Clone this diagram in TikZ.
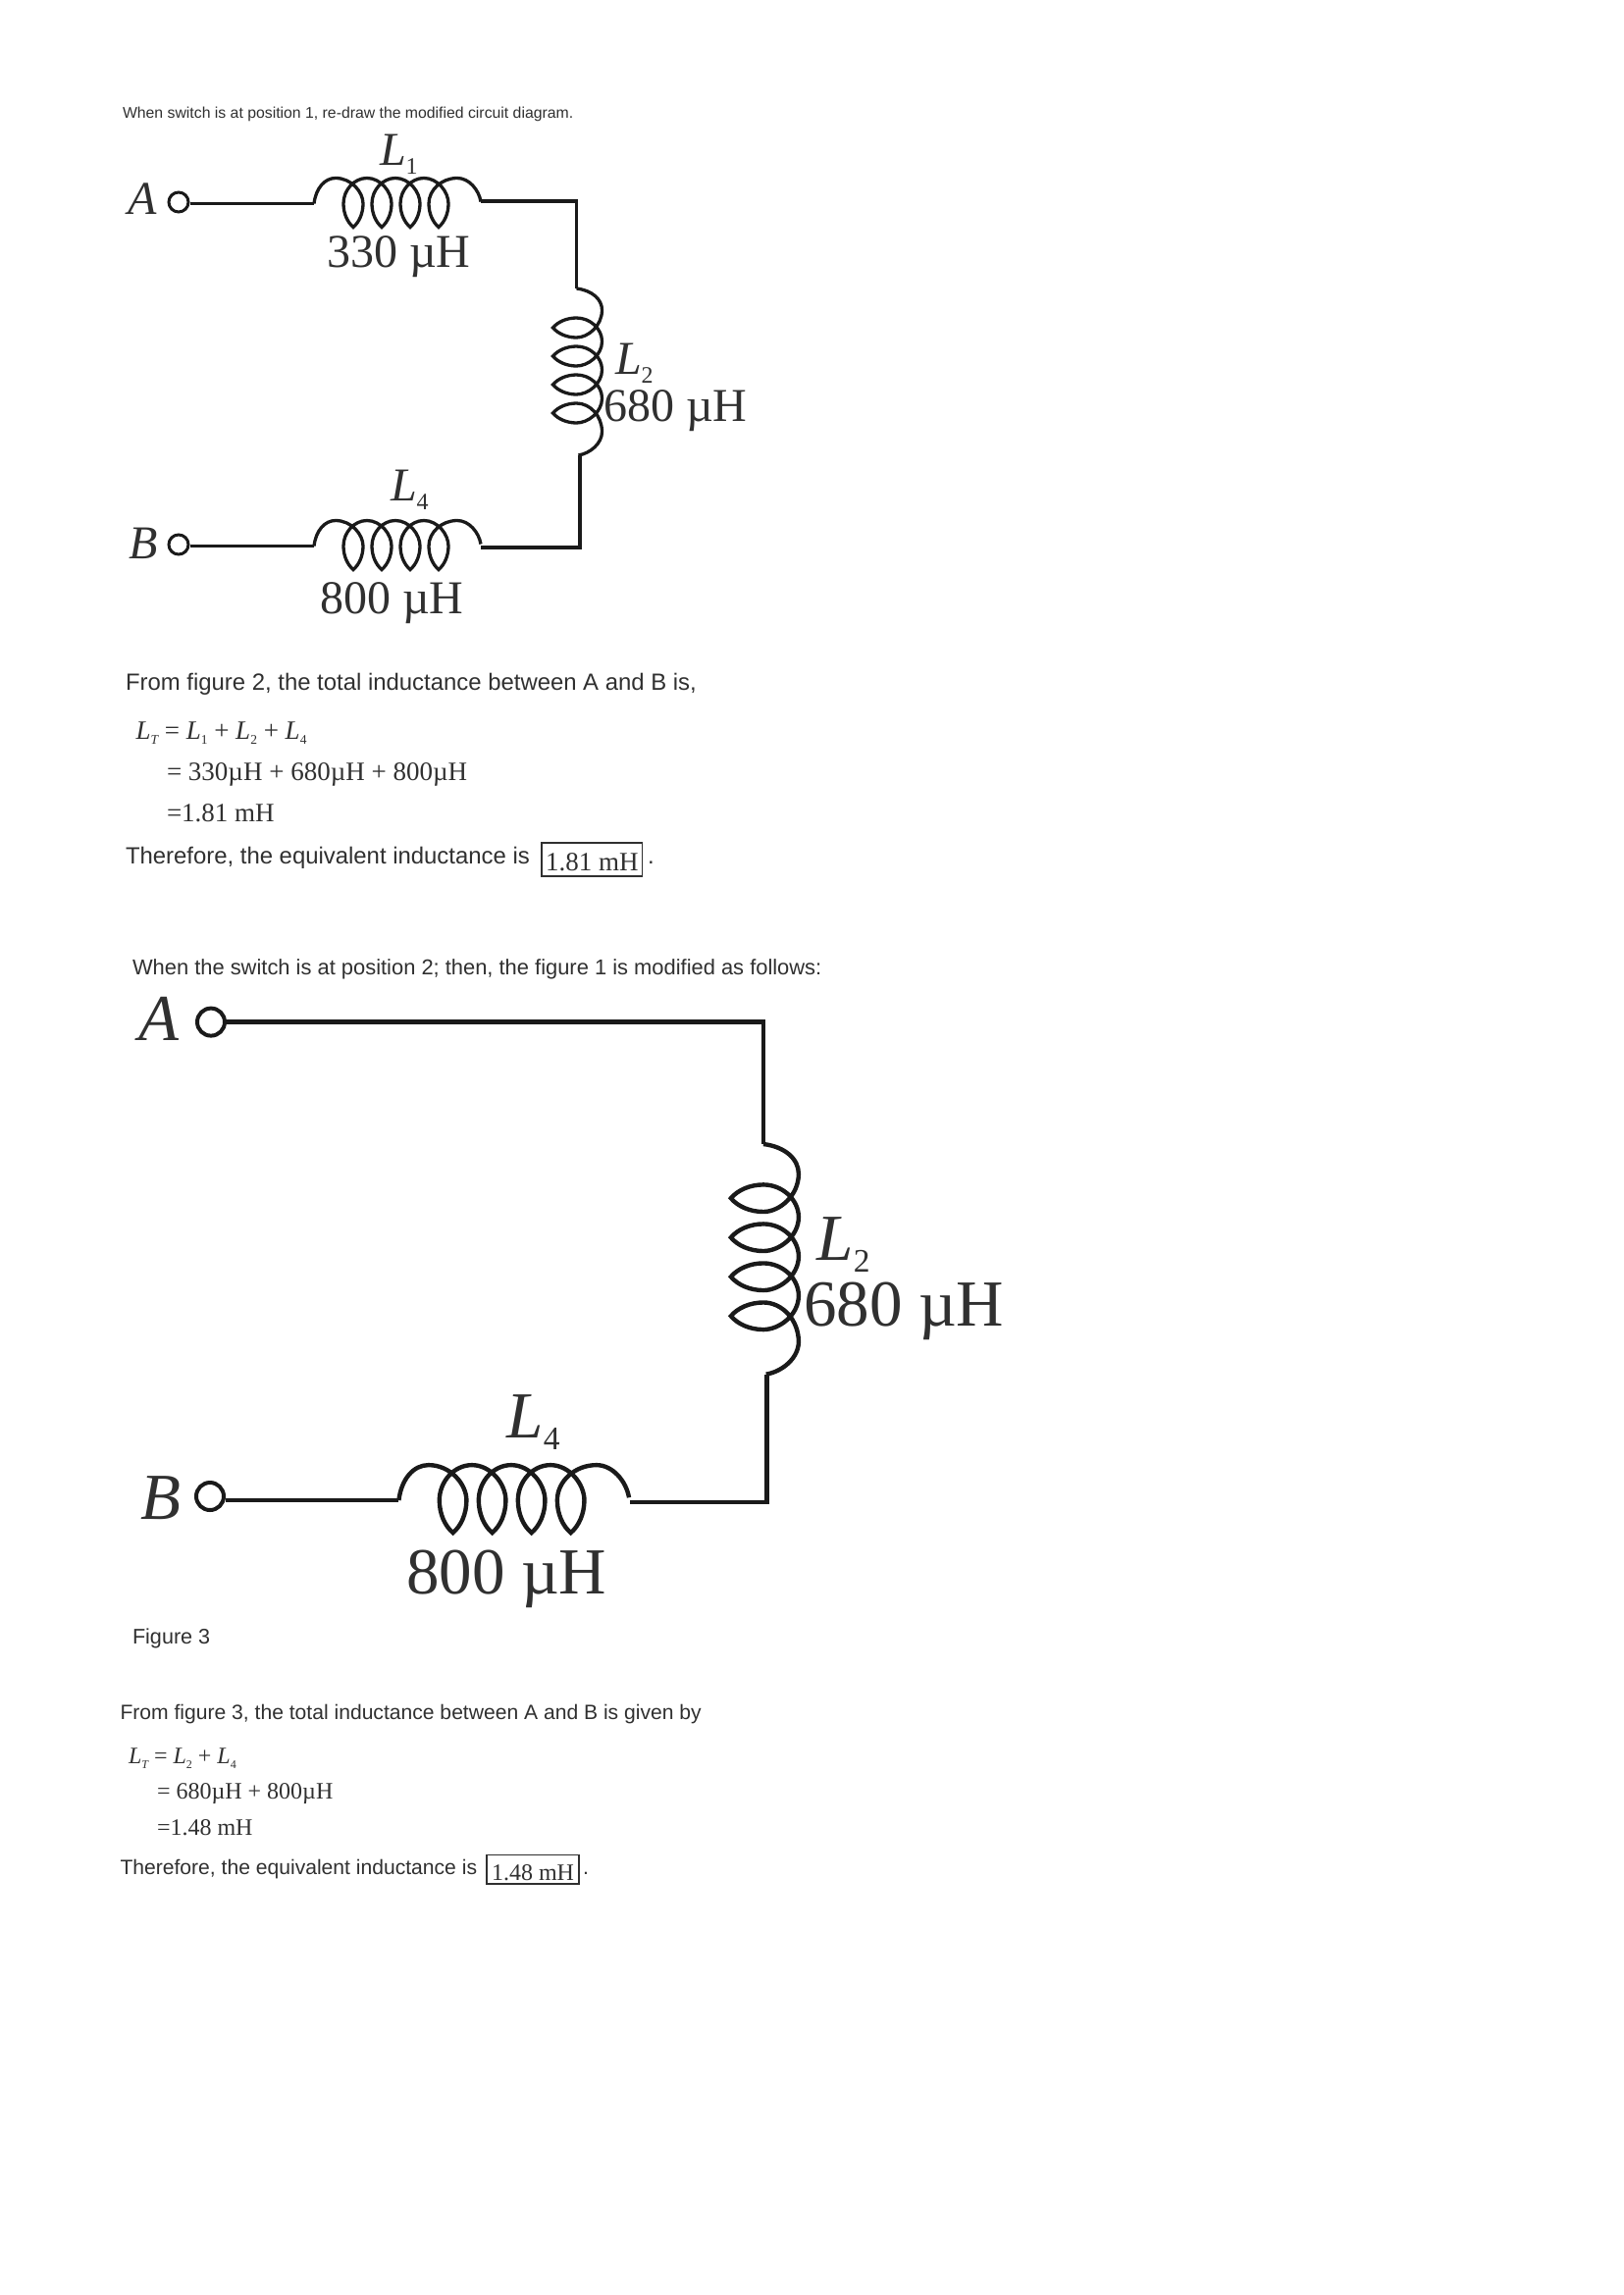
\documentclass[tikz,border=0pt]{standalone}
\usepackage{fontspec}
\usepackage{graphicx}
\setmainfont{Liberation Serif}
\newfontfamily\arial{Liberation Sans}
\newcommand\LS[1]{{\itshape L}\raisebox{-.19em}{\scalebox{.5}{#1}}}
\newcommand\fs[1]{\fontsize{#1}{#1}\selectfont}
\definecolor{ink}{HTML}{1A1A1A}
\definecolor{txt}{HTML}{303030}
\tikzset{
  lbl/.style={anchor=base west,inner sep=0pt,outer sep=0pt,text=txt},
  para/.style={lbl,font=\arial},
  wire/.style={draw=ink,line join=miter,line cap=butt},
  terminal/.style={circle,draw=ink,fill=white,inner sep=0pt},
  coil/.pic={
    \draw[draw=ink] (0,0) .. controls (2,-16) and (11,-26) .. (22,-26)
      .. controls (38,-26) and (50,-12) .. (50,0) .. controls (50,10) and (46,19) .. (40,24)
      .. controls (34,19) and (30,10) .. (30,0) .. controls (30,-14) and (41,-26) .. (54,-26)
      .. controls (68,-26) and (79,-12) .. (79,0) .. controls (79,10) and (75,19) .. (69,24)
      .. controls (63,19) and (59,10) .. (59,0) .. controls (59,-14) and (70,-26) .. (83,-26)
      .. controls (97,-26) and (108,-12) .. (108,0) .. controls (108,10) and (104,19) .. (98,24)
      .. controls (92,19) and (88,10) .. (88,0) .. controls (88,-14) and (99,-26) .. (112,-26)
      .. controls (126,-26) and (137,-12) .. (137,0) .. controls (137,10) and (133,19) .. (127,24)
      .. controls (121,19) and (117,10) .. (117,0) .. controls (117,-14) and (130,-26) .. (146,-26)
      .. controls (158,-26) and (168,-14) .. (170,-2);
  }
}
\begin{document}
\begin{tikzpicture}[x=1pt,y=-1pt]
\useasboundingbox (0,0) rectangle (1654,2339);
% heading
\node[para,font=\arial\fs{15.8}] (h1) at (125,121) {When switch is at position 1, re-draw the modified circuit diagram.};
% circuit 1
\begin{scope}[line width=3.2pt]
\node[terminal,minimum size=20pt,line width=3pt] (A1) at (182,206) {};
\node[terminal,minimum size=20pt,line width=3pt] (B1) at (182,555) {};
\coordinate (L1s) at (320,207.5); \coordinate (L1e) at (490,205);
\coordinate (K1) at (587.5,205); \coordinate (L2s) at (587.5,294);
\coordinate (L2e) at (591,464); \coordinate (K2) at (591,558);
\coordinate (L4e) at (490,558); \coordinate (L4s) at (320,556.5);
\draw[wire] (A1.east) ++(0,1.5) -- (L1s);
\draw[wire] (L1e) -- (K1) -- (L2s);
\draw[wire] (L2e) -- (K2) -- (L4e);
\draw[wire] (B1.east) ++(0,1.5) -- (L4s);
\pic[line width=3.3pt] at (L1s) {coil};
\pic[line width=3.3pt,rotate=-90] at (L2s) {coil};
\pic[line width=3.3pt] at (L4s) {coil};
\end{scope}
\begin{scope}[every node/.append style={font=\fs{48}}]
\node[lbl] (tA1) at (130,218.5) {\itshape A};
\node[lbl] (tB1) at (131,569) {\itshape B};
\node[lbl] (tL1) at (387,168.5) {\LS{1}};
\node[lbl] (v1) at (333,272.5) {330 µH};
\node[lbl] (tL2) at (627,381) {\LS{2}};
\node[lbl] (v2) at (615,429) {680 µH};
\node[lbl] (tL4) at (398,510) {\LS{4}};
\node[lbl] (v4) at (326,625) {800 µH};
\end{scope}
% text block 1
\node[para,font=\arial\fs{23.9}] (p1) at (128,703) {From figure 2, the total inductance between A and B is,};
\node[lbl,font=\fs{27}] (e1) at (138.5,753) {\LS{\itshape T} = \LS{1} + \LS{2} + \LS{4}};
\node[lbl,font=\fs{27}] (e2) at (170,795) {= 330µH + 680µH + 800µH};
\node[lbl,font=\fs{27}] (e3) at (170,837) {=1.81 mH};
\node[para,font=\arial\fs{23.9}] (p2) at (128,880) {Therefore, the equivalent inductance is};
\node[lbl,draw=txt,line width=1.2pt,inner xsep=4pt,inner ysep=2pt,text height=26pt,text depth=4pt,font=\fs{27}] (b1) at (552,887) {1.81 mH};
\node[para,font=\arial\fs{23.9}] (d1) at (660,880) {.};
\node[para,font=\arial\fs{21.9}] (p3) at (135,993) {When the switch is at position 2; then, the figure 1 is modified as follows:};
% circuit 2
\begin{scope}[line width=4.3pt]
\node[terminal,minimum size=28pt,line width=4pt] (A2) at (215,1041.6) {};
\node[terminal,minimum size=28pt,line width=4pt] (B2) at (214,1525) {};
\coordinate (K3) at (778,1041.6); \coordinate (M2s) at (778,1166);
\coordinate (M2e) at (781.4,1401); \coordinate (K4) at (781.4,1531);
\coordinate (M4e) at (641.7,1531); \coordinate (M4s) at (406.4,1529);
\draw[wire] (A2.east) -- (K3) -- (M2s);
\draw[wire] (M2e) -- (K4) -- (M4e);
\draw[wire] (B2.east) ++(0,4) -- (M4s);
\pic[line width=4.4pt,rotate=-90,scale=1.38] at (M2s) {coil};
\pic[line width=4.4pt,scale=1.38] at (M4s) {coil};
\end{scope}
\begin{scope}[every node/.append style={font=\fs{67}}]
\node[lbl] (tA2) at (141.7,1060.4) {\itshape A};
\node[lbl] (tB2) at (143,1548) {\itshape B};
\node[lbl] (tM2) at (832.7,1284) {\LS{2}};
\node[lbl] (w2) at (819,1351) {680 µH};
\node[lbl] (tM4) at (516.7,1465) {\LS{4}};
\node[lbl] (w4) at (414,1624) {800 µH};
\end{scope}
\node[para,font=\arial\fs{21.6}] (fig3) at (135,1675) {Figure 3};
% text block 2
\node[para,font=\arial\fs{21.1}] (p4) at (122.5,1752.7) {From figure 3, the total inductance between A and B is given by};
\node[lbl,font=\fs{24}] (f1) at (131,1797.7) {\LS{\itshape T} = \LS{2} + \LS{4}};
\node[lbl,font=\fs{24}] (f2) at (160,1833) {= 680µH + 800µH};
\node[lbl,font=\fs{24}] (f3) at (160,1870) {=1.48 mH};
\node[para,font=\arial\fs{21.1}] (p5) at (122.5,1910) {Therefore, the equivalent inductance is};
\node[lbl,draw=txt,line width=1.2pt,inner xsep=5pt,inner ysep=2pt,text height=23.3pt,text depth=2pt,font=\fs{24}] (b2) at (496,1916) {1.48 mH};
\node[para,font=\arial\fs{21.1}] (d2) at (594,1910) {.};
\end{tikzpicture}
\end{document}
